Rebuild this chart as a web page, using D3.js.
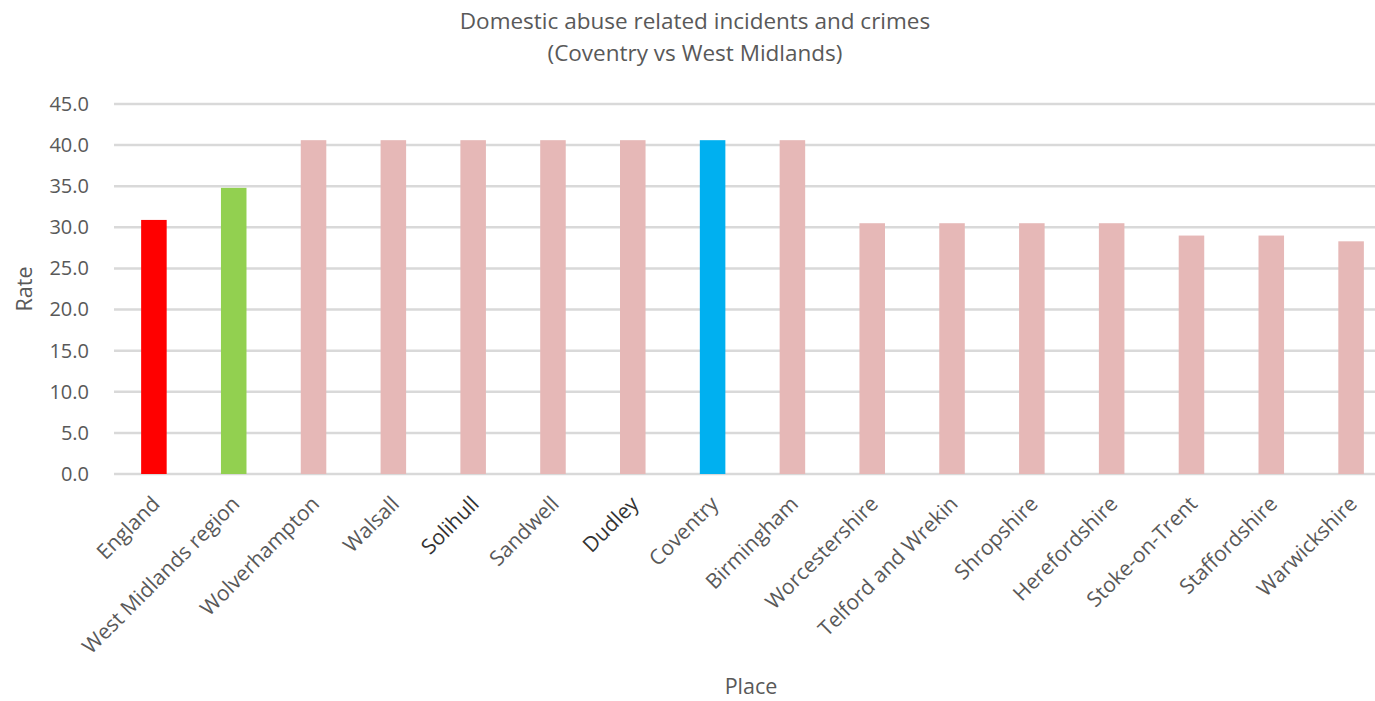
<!DOCTYPE html>
<html>
<head>
<meta charset="utf-8">
<script src="https://cdn.jsdelivr.net/npm/d3@7"></script>
<style>
  html, body { margin: 0; padding: 0; background: #fff; }
  svg { display: block; font-family: "Open Sans", sans-serif; }
</style>
</head>
<body>
<div id="chart"></div>
<script>
// data
const places = ["England", "West Midlands region", "Wolverhampton", "Walsall", "Solihull",
  "Sandwell", "Dudley", "Coventry", "Birmingham", "Worcestershire", "Telford and Wrekin",
  "Shropshire", "Herefordshire", "Stoke-on-Trent", "Staffordshire", "Warwickshire"];
const rates = [30.9, 34.8, 40.6, 40.6, 40.6, 40.6, 40.6, 40.6, 40.6,
  30.5, 30.5, 30.5, 30.5, 29.0, 29.0, 28.3];
const barColours = ["#ff0000", "#92d050", "#e6b8b7", "#e6b8b7", "#e6b8b7", "#e6b8b7",
  "#e6b8b7", "#00b0f0", "#e6b8b7", "#e6b8b7", "#e6b8b7", "#e6b8b7", "#e6b8b7",
  "#e6b8b7", "#e6b8b7", "#e6b8b7"];
const yTicks = [0, 5, 10, 15, 20, 25, 30, 35, 40, 45];
const darkLabels = ["Solihull", "Dudley"];

const width = 1375, height = 701;
const margin = { top: 104, left: 114, bottom: 227 };
const plotRight = 1391;

const svg = d3.select("#chart").append("svg")
  .attr("width", width)
  .attr("height", height);

const x = d3.scaleBand()
  .domain(places)
  .range([margin.left, plotRight])
  .paddingInner(0.68)
  .paddingOuter(0.34);

const y = d3.scaleLinear()
  .domain([0, 45])
  .range([height - margin.bottom, margin.top]);

/* gridlines */
svg.append("g")
  .selectAll("line")
  .data(yTicks)
  .enter()
  .append("line")
  .attr("x1", margin.left)
  .attr("x2", plotRight)
  .attr("y1", d => y(d))
  .attr("y2", d => y(d))
  .attr("stroke", "#d9d9d9")
  .attr("stroke-width", 2.5);

/* y axis labels */
const yAxis = d3.axisLeft(y)
  .tickValues(yTicks)
  .tickFormat(d3.format(".1f"))
  .tickSize(0)
  .tickPadding(25);

svg.append("g")
  .attr("transform", `translate(${margin.left},0)`)
  .call(yAxis)
  .call(g => g.select(".domain").remove())
  .call(g => g.selectAll("text")
    .attr("font-size", 20)
    .attr("font-family", "Open Sans, sans-serif")
    .attr("fill", "#595959"));

/* bars */
svg.append("g")
  .selectAll("rect")
  .data(places)
  .enter()
  .append("rect")
  .attr("x", d => x(d))
  .attr("width", x.bandwidth())
  .attr("y", (d, i) => y(rates[i]))
  .attr("height", (d, i) => y(0) - y(rates[i]))
  .attr("fill", (d, i) => barColours[i]);

/* x axis labels, rotated */
const xAxis = d3.axisBottom(x).tickSize(0).tickPadding(0);

svg.append("g")
  .attr("transform", `translate(0,${y(0)})`)
  .call(xAxis)
  .call(g => g.select(".domain").remove())
  .call(g => g.selectAll("text")
    .attr("font-size", 21)
    .attr("font-family", "Open Sans, sans-serif")
    .attr("fill", d => darkLabels.includes(d) ? "#333333" : "#595959")
    .attr("text-anchor", "end")
    .attr("dy", "0.35em")
    .attr("transform", "translate(2,26) rotate(-45)"));

/* titles */
svg.append("text")
  .attr("x", 695)
  .attr("y", 29)
  .attr("text-anchor", "middle")
  .attr("font-size", 22.5)
  .attr("fill", "#595959")
  .text("Domestic abuse related incidents and crimes");

svg.append("text")
  .attr("x", 695)
  .attr("y", 61)
  .attr("text-anchor", "middle")
  .attr("font-size", 22.5)
  .attr("fill", "#595959")
  .text("(Coventry vs West Midlands)");

svg.append("text")
  .attr("transform", `translate(32,${(y(0) + y(45)) / 2}) rotate(-90)`)
  .attr("text-anchor", "middle")
  .attr("font-size", 21.5)
  .attr("fill", "#595959")
  .text("Rate");

svg.append("text")
  .attr("x", 751)
  .attr("y", 694)
  .attr("text-anchor", "middle")
  .attr("font-size", 21.5)
  .attr("fill", "#595959")
  .text("Place");
</script>
</body>
</html>
